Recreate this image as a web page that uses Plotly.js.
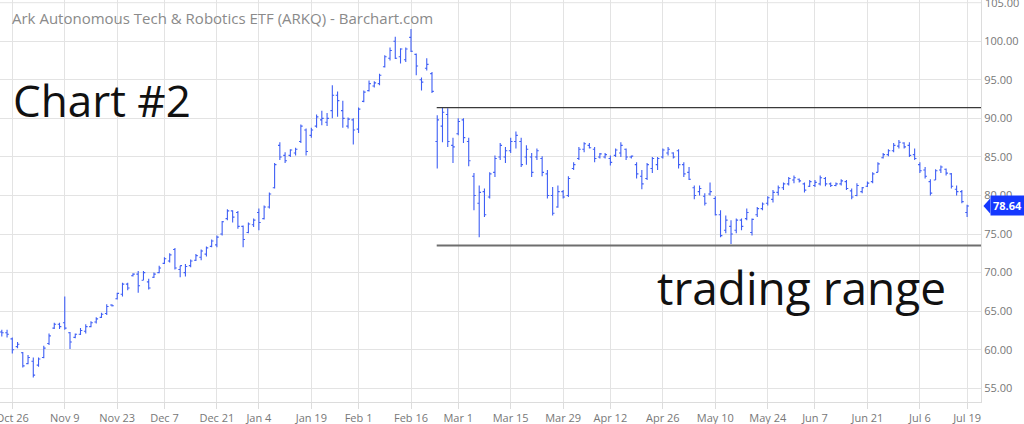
<!DOCTYPE html>
<html>
<head>
<meta charset="utf-8">
<script src="https://cdn.plot.ly/plotly-3.0.1.min.js"></script>
<style>html,body{margin:0;padding:0;background:#fff;}#chart{width:1024px;height:424px;}</style>
</head>
<body>
<div id="chart"></div>
<script>
// Trading days: weekdays from 2020-10-22 to 2021-07-19, market holidays skipped
const startDate = '2020-10-22';
const endDate = '2021-07-19';
const holidays = ['2020-11-26','2020-12-25','2021-01-01','2021-01-18','2021-02-15','2021-04-02','2021-05-31','2021-07-05'];

const openPrices = [62.3,62.2,61.4,60.4,59.6,58.2,58.5,58.0,59.0,60.8,62.8,63.3,63.5,62.2,61.6,62.0,62.4,63.0,63.6,64.2,64.7,65.8,66.6,67.2,68.5,69.6,69.8,69.0,68.8,69.4,70.0,71.2,71.5,73.0,70.4,70.0,70.9,71.6,72.0,72.4,73.4,73.6,75.0,77.0,78.0,77.8,76.0,75.2,76.2,77.8,77.0,78.5,81.0,86.5,85.2,85.2,85.5,87.0,88.5,87.8,89.0,89.8,89.5,91.0,93.0,91.0,89.0,89.8,88.6,92.2,93.6,94.2,94.5,96.7,97.8,100.0,98.0,97.6,100.5,98.3,95.0,96.5,95.8,87.0,89.0,90.5,86.5,88.0,89.8,87.0,82.5,79.0,80.5,79.8,83.0,85.0,85.0,85.8,87.0,87.0,85.0,85.0,85.0,84.8,82.8,80.0,78.5,80.5,80.0,83.5,84.8,86.0,86.5,86.0,85.0,85.0,84.8,85.2,85.5,86.0,85.0,84.0,82.5,82.2,83.5,84.0,85.0,85.5,85.5,85.8,84.0,83.0,81.0,80.5,79.9,80.2,79.6,77.5,75.5,76.0,75.5,76.8,77.0,75.2,77.5,78.3,79.0,79.5,80.4,81.0,81.5,82.0,82.1,81.5,81.2,81.3,81.5,82.2,81.5,81.3,81.5,81.8,80.6,80.0,80.5,81.2,81.8,83.0,84.9,85.3,85.8,86.4,86.8,86.5,85.3,84.0,83.3,81.8,82.0,83.3,83.4,82.8,80.8,80.5,77.8];
const highPrices = [62.6,62.6,61.6,61.0,59.7,59.3,59.0,59.0,60.5,62.1,63.5,63.5,66.9,62.3,62.1,62.8,63.3,63.7,64.2,64.8,65.9,65.9,67.4,68.7,68.7,69.9,70.2,70.2,69.2,70.0,70.9,72.0,72.5,73.2,70.9,71.1,71.7,72.4,73.0,73.4,74.3,74.8,76.7,78.2,78.1,78.0,76.1,76.5,77.0,78.3,78.7,80.4,84.2,86.9,85.6,86.0,86.2,89.2,88.7,88.8,90.5,91.0,90.7,94.3,93.5,92.3,90.1,90.0,91.4,93.6,94.9,94.8,95.8,98.2,99.2,100.6,99.1,99.2,101.6,98.4,95.3,97.8,96.0,90.4,91.4,91.3,87.5,90.0,90.0,87.5,82.9,81.3,80.9,83.0,85.2,86.8,86.3,87.5,88.3,87.5,86.5,85.5,86.1,85.1,83.3,81.1,81.3,80.7,82.5,84.3,86.3,86.9,86.8,86.3,85.5,85.5,85.2,86.1,86.9,86.1,85.2,84.3,83.3,84.2,85.0,85.0,86.1,86.3,85.6,86.0,84.3,83.7,81.3,81.3,80.3,81.7,79.9,78.1,77.4,76.8,77.0,77.0,78.3,77.0,78.5,79.1,79.9,80.7,81.3,81.7,82.4,82.6,82.2,81.7,82.0,82.0,82.6,82.4,81.7,81.7,82.1,82.0,80.9,81.6,81.1,81.8,83.0,84.3,85.5,86.0,86.8,87.2,86.9,86.9,86.1,84.3,83.7,82.1,83.4,83.9,83.5,82.9,81.3,80.7,78.8];
const lowPrices = [61.7,61.6,59.5,60.2,57.7,58.1,56.4,57.8,58.9,60.6,62.7,62.7,62.6,60.1,61.5,61.9,62.1,62.9,63.4,64.1,64.5,65.6,66.5,66.9,67.7,69.5,67.4,69.0,67.8,69.3,69.9,71.1,71.3,70.4,69.4,69.5,70.7,71.5,71.6,72.1,73.3,73.3,74.8,76.8,76.5,75.7,73.3,75.1,75.9,75.5,76.9,78.3,80.9,84.6,84.2,85.0,85.2,86.8,85.2,87.5,88.8,89.1,89.0,90.0,90.2,88.8,88.7,86.6,88.1,92.1,93.5,94.0,94.3,96.6,97.5,97.7,97.1,97.3,98.6,95.6,93.6,96.2,93.3,83.5,86.9,86.3,84.2,87.8,86.8,83.8,78.1,74.6,77.2,79.6,82.4,84.6,84.2,85.5,86.1,83.7,84.0,82.4,84.6,82.5,79.6,77.4,78.4,79.6,79.8,83.3,84.6,85.6,86.1,84.3,84.8,84.8,83.9,85.0,85.0,84.6,84.8,82.2,80.8,82.0,82.9,83.3,84.8,85.2,84.8,83.5,82.4,82.0,79.5,80.0,78.7,80.0,77.4,74.6,75.1,73.7,75.1,75.5,76.8,74.8,77.2,78.1,78.7,79.1,80.0,80.7,81.3,81.6,81.7,80.4,81.1,81.1,81.3,81.2,81.1,81.2,81.3,80.7,79.5,79.9,80.3,81.1,81.6,83.0,84.8,85.1,85.6,86.1,86.1,85.0,84.6,82.9,82.2,80.0,82.0,82.9,82.6,80.9,80.0,79.0,77.2];
const closePrices = [62.2,62.0,60.0,60.7,57.9,59.0,56.7,58.8,60.2,61.8,63.3,63.0,62.8,61.0,62.0,62.5,63.0,63.5,64.0,64.6,65.6,65.7,67.3,68.5,68.0,69.8,68.3,70.0,68.0,69.8,70.6,71.8,72.3,70.6,70.9,70.8,71.5,72.2,72.8,73.2,74.1,74.6,76.6,78.0,77.2,76.0,74.3,76.3,76.8,76.5,78.5,80.2,84.0,85.0,84.5,85.9,86.0,89.0,85.7,88.5,90.2,90.0,90.0,93.0,92.3,90.0,89.9,88.5,91.2,93.4,94.5,94.6,95.6,98.0,98.8,97.8,99.0,99.0,98.7,96.8,94.7,97.0,93.5,89.8,90.8,87.0,86.3,89.6,87.5,84.5,80.0,80.4,77.5,82.8,84.8,86.5,85.8,87.0,87.8,84.0,86.0,83.0,85.8,83.0,80.0,77.7,80.5,79.8,82.2,84.0,86.0,86.7,86.2,84.8,85.4,85.3,84.3,85.9,86.5,85.0,85.1,82.8,81.5,84.0,84.8,84.8,85.9,86.0,85.0,84.0,82.8,82.1,80.0,80.9,79.0,80.5,77.5,74.8,76.8,75.0,76.8,76.0,77.8,76.9,78.3,78.9,79.7,80.4,81.0,81.5,82.2,82.3,81.9,80.7,81.8,81.7,82.3,81.5,81.3,81.5,81.9,80.9,79.8,81.3,81.0,81.6,82.8,84.1,85.3,85.8,86.5,86.9,86.3,85.2,84.8,83.2,82.5,80.3,83.2,83.7,82.9,81.2,80.5,79.2,78.64];

const tickDates = ['2020-10-26','2020-11-09','2020-11-23','2020-12-07','2020-12-21','2021-01-04','2021-01-19','2021-02-01','2021-02-16','2021-03-01','2021-03-15','2021-03-29','2021-04-12','2021-04-26','2021-05-10','2021-05-24','2021-06-07','2021-06-21','2021-07-06','2021-07-19'];
const tickLabels = ['Oct 26','Nov 9','Nov 23','Dec 7','Dec 21','Jan 4','Jan 19','Feb 1','Feb 16','Mar 1','Mar 15','Mar 29','Apr 12','Apr 26','May 10','May 24','Jun 7','Jun 21','Jul 6','Jul 19'];
const priceTicks = [55, 60, 65, 70, 75, 80, 85, 90, 95, 100];
const topPriceTick = 105;

const rangeStartDate = '2021-02-23';
const rangeTop = 91.4;
const rangeBottom = 73.5;
const lastPrice = 78.64;

function tradingDays(a, b, skip) {
  const out = [];
  const d = new Date(a + 'T00:00:00Z');
  const e = new Date(b + 'T00:00:00Z');
  while (d <= e) {
    const wd = d.getUTCDay();
    const s = d.toISOString().slice(0, 10);
    if (wd !== 0 && wd !== 6 && skip.indexOf(s) < 0) out.push(s);
    d.setUTCDate(d.getUTCDate() + 1);
  }
  return out;
}
const dates = tradingDays(startDate, endDate, holidays);

const barColor = '#3f5ff5';
const gridColor = '#e3e3e3';
const font = 'Open Sans, Noto Sans, sans-serif';
const tickFont = {family: font, size: 11, color: '#777'};

const xMin = -0.345, xMax = 186.65;
const startIdx = dates.indexOf(rangeStartDate) - 0.1;

const trace = {
  type: 'ohlc',
  x: dates,
  open: openPrices,
  high: highPrices,
  low: lowPrices,
  close: closePrices,
  increasing: {line: {color: barColor, width: 1.1}},
  decreasing: {line: {color: barColor, width: 1.1}},
  tickwidth: 0.35,
  hoverinfo: 'skip'
};

const layout = {
  width: 1024, height: 424,
  margin: {l: 0, r: 43, t: 0, b: 22},
  paper_bgcolor: '#fff', plot_bgcolor: '#fff',
  showlegend: false,
  font: {family: font, color: '#777'},
  title: {
    text: 'Ark Autonomous Tech & Robotics ETF (ARKQ) - Barchart.com',
    x: 12/1024, xanchor: 'left', xref: 'container',
    y: 1 - 19/424, yanchor: 'middle', yref: 'container',
    font: {family: font, size: 15, color: '#8a8a8a'}
  },
  xaxis: {
    type: 'category',
    range: [xMin, xMax],
    rangeslider: {visible: false},
    tickvals: tickDates, ticktext: tickLabels,
    showgrid: true, gridcolor: gridColor, gridwidth: 1,
    showline: true, linecolor: '#dcdcdc', linewidth: 1,
    ticks: 'outside', ticklen: 6, tickcolor: '#dcdcdc',
    tickfont: tickFont,
    fixedrange: true
  },
  yaxis: {
    side: 'right',
    range: [53.22, 105.35],
    tickmode: 'array', tickvals: priceTicks,
    ticktext: priceTicks.map(v => v.toFixed(2)),
    showgrid: true, gridcolor: gridColor, gridwidth: 1,
    zeroline: false,
    showline: true, linecolor: '#dcdcdc', linewidth: 1,
    ticks: '',
    tickfont: tickFont,
    fixedrange: true
  },
  shapes: [
    {type: 'line', xref: 'paper', yref: 'y', x0: 0, x1: 1, y0: topPriceTick, y1: topPriceTick, line: {color: gridColor, width: 1}, layer: 'below'},
    {type: 'line', xref: 'x', yref: 'y', x0: startIdx, x1: xMax, y0: rangeTop, y1: rangeTop, line: {color: '#3a3a3a', width: 1.3}},
    {type: 'line', xref: 'x', yref: 'y', x0: startIdx, x1: xMax, y0: rangeBottom, y1: rangeBottom, line: {color: '#6e6e6e', width: 2}},
    {type: 'path', xref: 'paper', yref: 'y', path: 'M 1.0025 ' + lastPrice + ' L 1.0095 ' + (lastPrice + 1.0) + ' L 1.0095 ' + (lastPrice - 1.0) + ' Z', fillcolor: '#1538ff', line: {width: 0}}
  ],
  annotations: [
    {text: 'Chart #2', xref: 'paper', yref: 'paper', x: 11/981, y: 1 - 100/402, xanchor: 'left', yanchor: 'middle', showarrow: false, font: {family: font, size: 44, color: '#111'}},
    {text: 'trading range', xref: 'paper', yref: 'paper', x: 655/981, y: 1 - 287/402, xanchor: 'left', yanchor: 'middle', showarrow: false, font: {family: font, size: 46, color: '#111'}},
    {text: '<b>' + lastPrice.toFixed(2) + '</b>', xref: 'paper', yref: 'y', x: 1.0095, y: lastPrice, xanchor: 'left', yanchor: 'middle', showarrow: false, bgcolor: '#1538ff', borderpad: 2, font: {family: font, size: 11, color: '#fff'}},
    {text: topPriceTick.toFixed(2), xref: 'paper', yref: 'y', x: 1, y: topPriceTick, xanchor: 'left', yanchor: 'middle', xshift: 3, showarrow: false, borderpad: 0, font: tickFont}
  ]
};

Plotly.newPlot('chart', [trace], layout, {staticPlot: true, displayModeBar: false});
</script>
</body>
</html>
